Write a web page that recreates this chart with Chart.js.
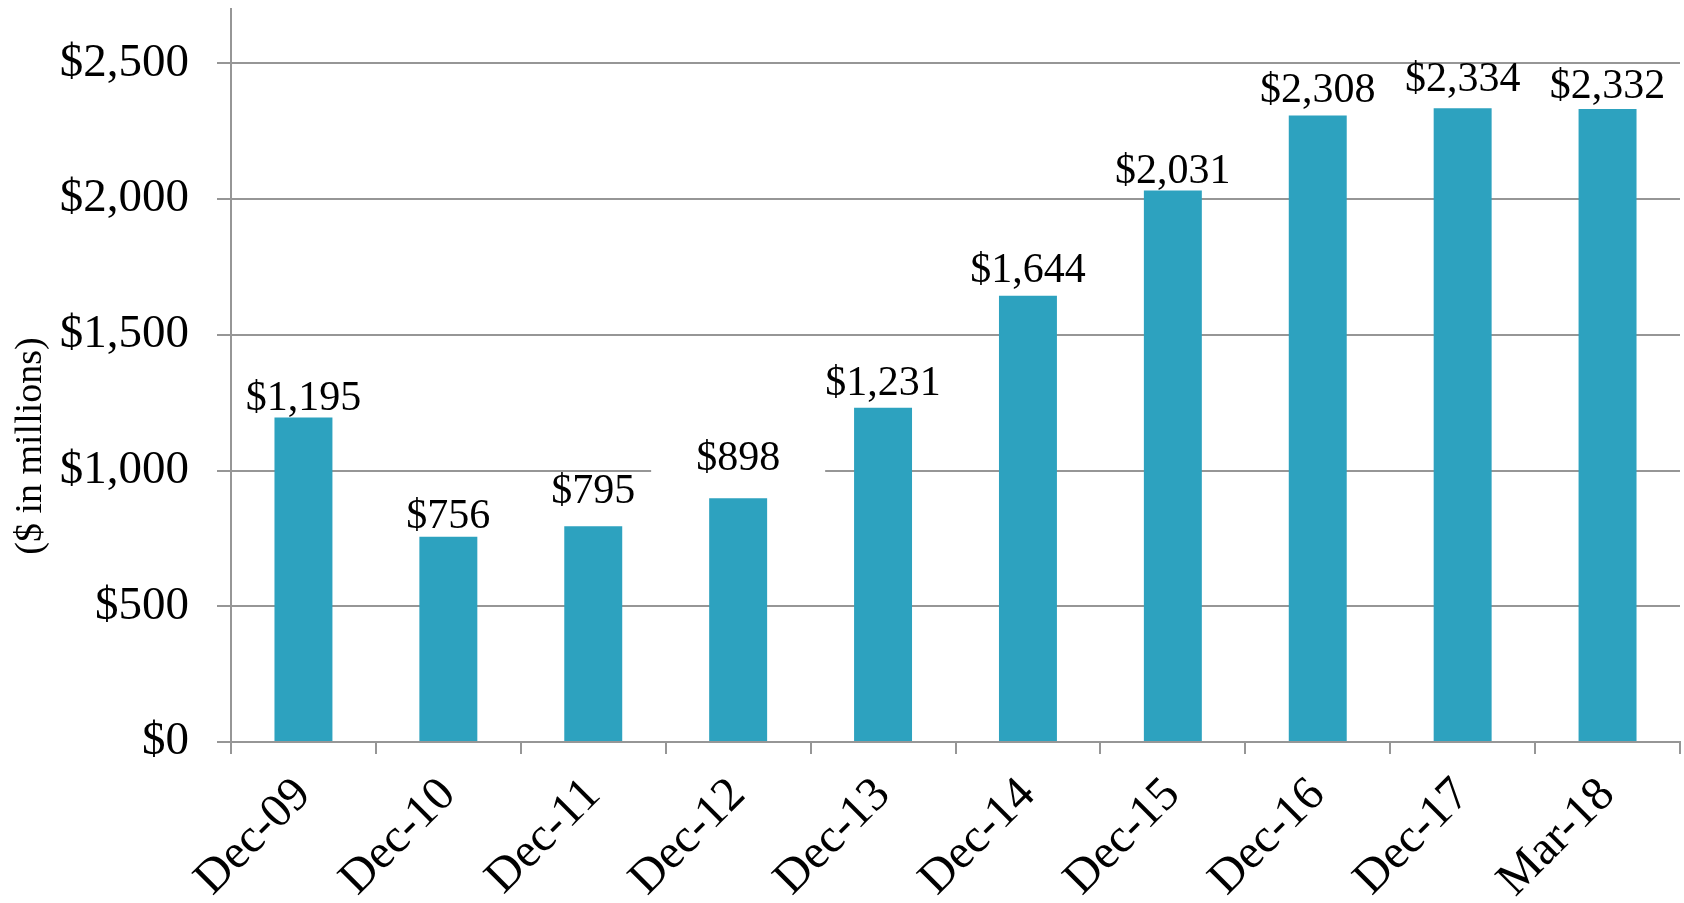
<!DOCTYPE html>
<html>
<head>
<meta charset="utf-8">
<script src="https://cdn.jsdelivr.net/npm/chart.js@4/dist/chart.umd.min.js"></script>
<style>
  html, body { margin: 0; padding: 0; background: #ffffff; }
  #wrap { position: relative; width: 1684px; height: 903px; }
</style>
</head>
<body>
<div id="wrap"><canvas id="c" width="1684" height="903"></canvas></div>
<script>
const categories = ['Dec-09', 'Dec-10', 'Dec-11', 'Dec-12', 'Dec-13', 'Dec-14', 'Dec-15', 'Dec-16', 'Dec-17', 'Mar-18'];
const values = [1195, 756, 795, 898, 1231, 1644, 2031, 2308, 2334, 2332];
const yTickValues = [0, 500, 1000, 1500, 2000, 2500];
const yAxisTitle = '($ in millions)';

const SERIF = '"Liberation Serif", "Times New Roman", serif';
const fmt = v => '$' + v.toLocaleString('en-US');

const labelPlugin = {
  id: 'barLabels',
  afterDatasetsDraw(chart, args, opts) {
    const ctx = chart.ctx;
    const meta = chart.getDatasetMeta(0);
    ctx.save();
    ctx.font = opts.fontSize + 'px ' + SERIF;
    ctx.textAlign = 'center';
    ctx.textBaseline = 'alphabetic';
    meta.data.forEach((bar, i) => {
      const off = opts.offsets[i] !== undefined ? opts.offsets[i] : 10;
      const y = bar.y - off;
      if (opts.boxed.includes(i)) {
        ctx.fillStyle = '#ffffff';
        ctx.fillRect(bar.x - opts.boxWidth / 2, y - opts.fontSize * 0.8, opts.boxWidth, opts.fontSize * 1.05);
      }
      ctx.fillStyle = '#000000';
      ctx.fillText(fmt(values[i]), bar.x, y);
    });
    ctx.restore();
  }
};

const yTitlePlugin = {
  id: 'yTitle',
  afterDraw(chart, args, opts) {
    const ctx = chart.ctx;
    ctx.save();
    ctx.font = opts.fontSize + 'px ' + SERIF;
    ctx.fillStyle = '#000000';
    ctx.textAlign = 'center';
    ctx.textBaseline = 'middle';
    ctx.translate(opts.x, opts.y);
    ctx.rotate(-Math.PI / 2);
    ctx.fillText(yAxisTitle, 0, 0);
    ctx.restore();
  }
};

new Chart(document.getElementById('c'), {
  type: 'bar',
  data: {
    labels: categories,
    datasets: [{
      data: values,
      backgroundColor: '#2DA2BF',
      borderWidth: 0,
      barPercentage: 0.4,
      categoryPercentage: 1.0
    }]
  },
  options: {
    responsive: false,
    animation: false,
    devicePixelRatio: 1,
    layout: { padding: { top: 9, right: 4, left: 0, bottom: 0 } },
    plugins: {
      legend: { display: false },
      tooltip: { enabled: false },
      barLabels: {
        fontSize: 42,
        offsets: [8, 9, 23, 28, 13, 14, 8, 13, 17, 11],
        boxed: [3],
        boxWidth: 174
      },
      yTitle: { fontSize: 38, x: 31, y: 446 }
    },
    scales: {
      x: {
        grid: {
          display: true,
          drawOnChartArea: false,
          drawTicks: true,
          tickLength: 12,
          color: '#969696',
          lineWidth: 2,
          offset: true
        },
        border: { display: true, color: '#969696', width: 2 },
        ticks: {
          color: '#000000',
          font: { family: SERIF, size: 48 },
          maxRotation: 45,
          minRotation: 45,
          padding: 13,
          autoSkip: false
        },
        afterFit(scale) {
          scale.height = 161;
          scale.paddingLeft = 0;
          scale.paddingRight = 0;
        }
      },
      y: {
        min: 0,
        max: 2700,
        grid: {
          color: '#969696',
          lineWidth: 2,
          tickLength: 14,
          drawTicks: true
        },
        border: { display: true, color: '#969696', width: 2 },
        ticks: {
          stepSize: 500,
          color: '#000000',
          font: { family: SERIF, size: 47 },
          padding: 28,
          callback: v => fmt(v)
        },
        afterBuildTicks(scale) {
          scale.ticks = yTickValues.map(v => ({ value: v }));
        },
        afterFit(scale) {
          scale.width = 231;
          scale.paddingTop = 0;
          scale.paddingBottom = 0;
        }
      }
    }
  },
  plugins: [labelPlugin, yTitlePlugin]
});
</script>
</body>
</html>
